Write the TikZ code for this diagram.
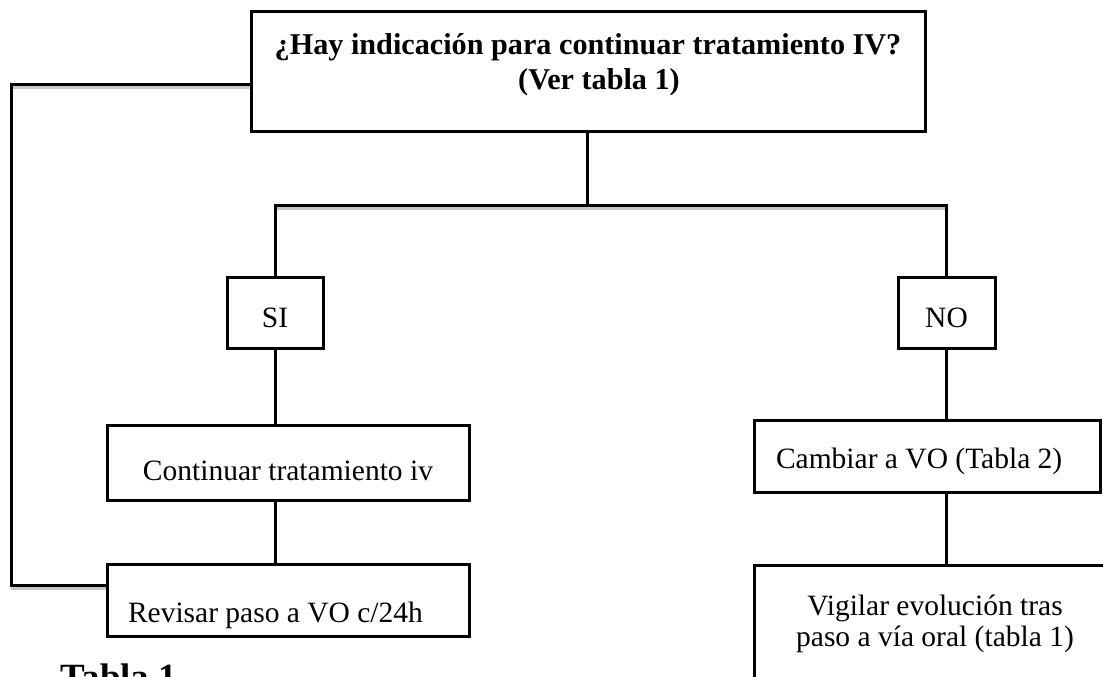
\documentclass[tikz,border=0pt]{standalone}
\usepackage{fontspec}
\setmainfont{Liberation Serif}
\newcommand\regfont{\fontsize{29.5}{31}\selectfont}
\newcommand\bldfont{\fontsize{30.2}{35}\selectfont\bfseries}
\tikzset{
  box/.style={draw=black, line width=3pt, inner sep=0pt, font=\regfont},
  conn/.style={line width=3pt, black},
  shadowline/.style={line width=2.5pt, gray!45},
}
\begin{document}
\begin{tikzpicture}[x=1pt,y=-1pt]
\useasboundingbox (0,0) rectangle (1103,677);
\clip (0,0) rectangle (1103,677);
% boxes
\node[box, font=\bldfont, align=center, minimum width=674, minimum height=119,
      text height=65, text depth=30] (top) at (588,71.5)
  {¿Hay indicación para continuar tratamiento IV?\\\hspace*{22pt}(Ver tabla 1)};
\node[box, minimum width=96, minimum height=71, text height=29, text depth=0] (si) at (275,312.5) {SI};
\node[box, minimum width=97, minimum height=71, text height=29, text depth=0] (no) at (946.5,312.5) {NO};
\node[box, minimum width=362, minimum height=75, text height=40, text depth=5] (cont) at (288,462.5)
  {Continuar tratamiento iv};
\node[box, minimum width=362, minimum height=72, text height=50, text depth=6] (rev) at (288,600)
  {\makebox[320pt][l]{Revisar paso a VO c/24h}};
\node[box, minimum width=346, minimum height=72, text height=30, text depth=6] (camb) at (927,456)
  {\makebox[302pt][l]{Cambiar a VO (Tabla 2)}};
\node[box, align=center, minimum width=362, minimum height=155,
      text height=57, text depth=50] (vig) at (935,642.5)
  {Vigilar evolución tras\\paso a vía oral (tabla 1)};
\node[font=\fontsize{37}{40}\selectfont\bfseries, anchor=base west, inner sep=0pt] (tabla) at (60,689) {Tabla 1};
% connector coordinates
\coordinate (lt) at (11,84);
\coordinate (lb) at (11,585);
\coordinate (hub) at (587,205);
% shadows
\draw[shadowline] ([yshift=-3.5]lt) -- ([yshift=-3.5]top.west |- lt);
\draw[shadowline] ([yshift=-3.5]lb) -- ([yshift=-3.5]rev.west |- lb);
\draw[shadowline] ([yshift=-3.5]si.north |- hub) -- ([yshift=-3.5]no.north |- hub);
% connectors
\draw[conn] (top.west |- lt) -- (lt) -- (lb) -- (rev.west |- lb);
\draw[conn] (top.south -| hub) -- (hub);
\draw[conn] (si.north) -- (si.north |- hub) -- (no.north |- hub) -- (no.north);
\draw[conn] (si.south) -- (si.south |- cont.north);
\draw[conn] (cont.south -| si.south) -- (rev.north -| si.south);
\draw[conn] (no.south) -- (no.south |- camb.north);
\draw[conn] (camb.south -| no.south) -- (vig.north -| no.south);
\end{tikzpicture}
\end{document}
